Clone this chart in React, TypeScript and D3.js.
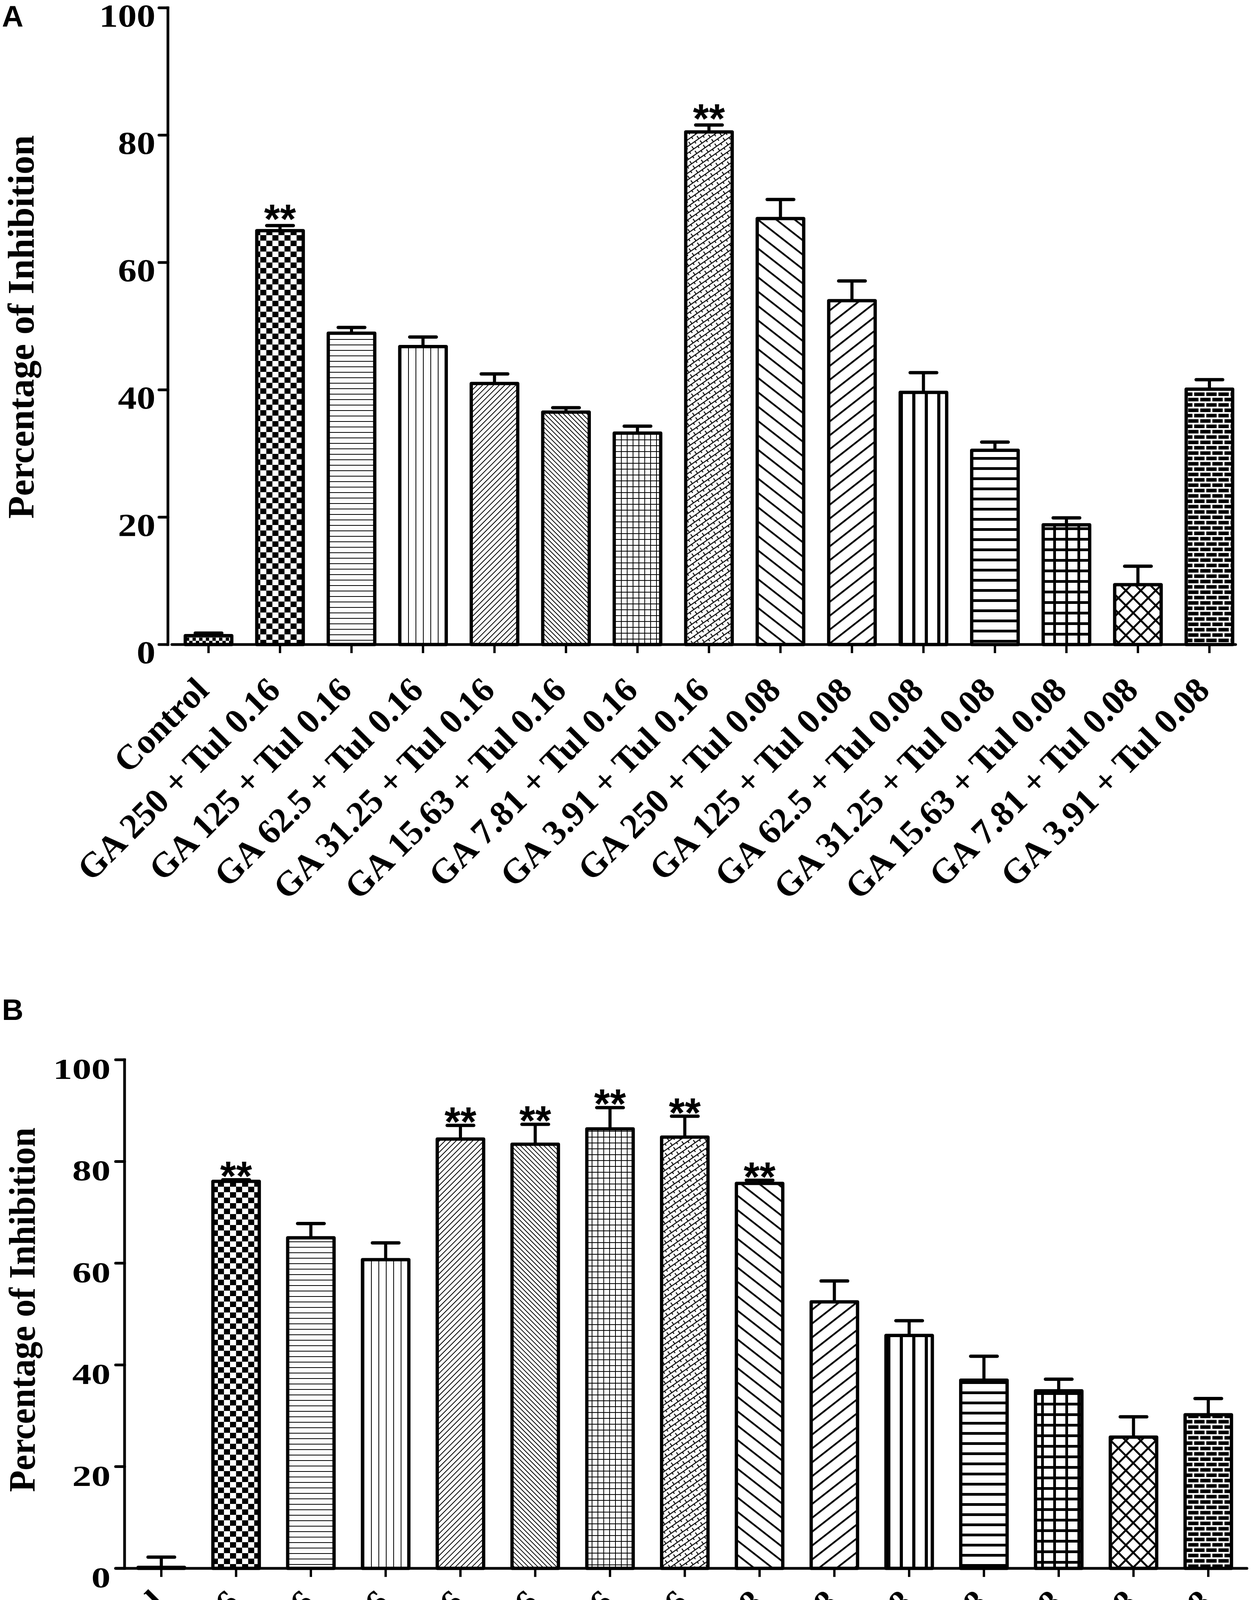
import React from "react";
import * as d3 from "d3";

const categories = [
  "Control",
  "GA 250 + Tul 0.16",
  "GA 125 + Tul 0.16",
  "GA 62.5 + Tul 0.16",
  "GA 31.25 + Tul 0.16",
  "GA 15.63 + Tul 0.16",
  "GA 7.81 + Tul 0.16",
  "GA 3.91 + Tul 0.16",
  "GA 250 + Tul 0.08",
  "GA 125 + Tul 0.08",
  "GA 62.5 + Tul 0.08",
  "GA 31.25 + Tul 0.08",
  "GA 15.63 + Tul 0.08",
  "GA 7.81 + Tul 0.08",
  "GA 3.91 + Tul 0.08",
];

const meansA = [1.4, 65.0, 48.9, 46.8, 41.0, 36.5, 33.2, 80.5, 66.9, 54.0, 39.6, 30.5, 18.8, 9.4, 40.1];
const errorsA = [0.4, 0.8, 0.9, 1.5, 1.5, 0.7, 1.1, 1.1, 3.0, 3.1, 3.1, 1.3, 1.1, 2.9, 1.5];
const starsA = ["", "**", "", "", "", "", "", "**", "", "", "", "", "", "", ""];

const meansB = [0.2, 76.1, 65.0, 60.7, 84.4, 83.4, 86.4, 84.8, 75.7, 52.4, 45.8, 37.0, 34.9, 25.8, 30.2];
const errorsB = [2.0, 0.3, 2.8, 3.3, 2.7, 3.9, 4.2, 4.1, 0.6, 4.1, 2.9, 4.7, 2.3, 4.0, 3.2];
const starsB = ["", "**", "", "", "**", "**", "**", "**", "**", "", "", "", "", "", ""];

const yTicks = [0, 20, 40, 60, 80, 100];
const yTitle = "Percentage of Inhibition";
const panelTitles = ["A", "B"];

const SERIF = "'Liberation Serif', 'Times New Roman', serif";
const SANS = "'Liberation Sans', Arial, sans-serif";

function Patterns() {
  const stripesH = (id: string, spacing: number, w: number, rot = 0) => (
    <pattern
      id={id}
      width={10}
      height={spacing}
      patternUnits="userSpaceOnUse"
      patternTransform={rot ? `rotate(${rot})` : undefined}
    >
      <rect width={10} height={spacing} fill="#fff" />
      <rect y={0} width={10} height={w} fill="#000" />
    </pattern>
  );
  return (
    <defs>
      <pattern id="pat0" width={17} height={17} patternUnits="userSpaceOnUse">
        <rect width={17} height={17} fill="#fff" />
        <rect x={0} y={0} width={8.5} height={8.5} fill="#000" />
        <rect x={8.5} y={8.5} width={8.5} height={8.5} fill="#000" />
      </pattern>
      <pattern id="pat1" width={31} height={28} patternUnits="userSpaceOnUse">
        <rect width={31} height={28} fill="#fff" />
        <rect x={0} y={0} width={15.5} height={14} fill="#000" />
        <rect x={15.5} y={14} width={15.5} height={14} fill="#000" />
      </pattern>
      {stripesH("pat2", 14, 2)}
      <pattern id="pat3" width={19} height={10} patternUnits="userSpaceOnUse">
        <rect width={19} height={10} fill="#fff" />
        <rect x={0} width={2} height={10} fill="#000" />
      </pattern>
      {stripesH("pat4", 10, 2, -45)}
      {stripesH("pat5", 8.5, 2, 45)}
      <pattern id="pat6" width={15} height={15} patternUnits="userSpaceOnUse">
        <rect width={15} height={15} fill="#fff" />
        <rect x={0} width={2} height={15} fill="#000" />
        <rect y={0} width={15} height={2} fill="#000" />
      </pattern>
      <pattern id="pat7" width={26} height={14} patternUnits="userSpaceOnUse" patternTransform="rotate(-35)">
        <rect width={26} height={14} fill="#fff" />
        <rect x={0} y={0} width={26} height={2.5} fill="#000" />
        <rect x={0} y={0} width={2.5} height={7} fill="#000" />
        <rect x={13} y={7} width={2.5} height={7} fill="#000" />
      </pattern>
      {stripesH("pat8", 29, 4.5, 38)}
      {stripesH("pat9", 28, 4.5, -38)}
      <pattern id="pat10" width={32} height={10} patternUnits="userSpaceOnUse">
        <rect width={32} height={10} fill="#fff" />
        <rect x={0} width={8} height={10} fill="#000" />
      </pattern>
      {stripesH("pat11", 26, 7)}
      <pattern id="pat12" width={31} height={27} patternUnits="userSpaceOnUse">
        <rect width={31} height={27} fill="#fff" />
        <rect x={0} width={7} height={27} fill="#000" />
        <rect y={0} width={31} height={7} fill="#000" />
      </pattern>
      <pattern id="pat13" width={27} height={27} patternUnits="userSpaceOnUse" patternTransform="rotate(45)">
        <rect width={27} height={27} fill="#fff" />
        <rect x={0} width={5} height={27} fill="#000" />
        <rect y={0} width={27} height={5} fill="#000" />
      </pattern>
      <pattern id="pat14" width={31} height={27.4} patternUnits="userSpaceOnUse">
        <rect width={31} height={27.4} fill="#000" />
        <rect x={0} y={0} width={31} height={4.5} fill="#fff" />
        <rect x={0} y={13.7} width={31} height={4.5} fill="#fff" />
        <rect x={0} y={0} width={4.5} height={13.7} fill="#fff" />
        <rect x={15.5} y={13.7} width={4.5} height={13.7} fill="#fff" />
      </pattern>
    </defs>
  );
}

type Layout = {
  x0: number; x1: number; pi: number; po: number; al: number;
  yTop: number; yBottom: number; axisX: number;
  tickFont: number; tickDigitW: number; tickGap: number; tickBaseDy: number;
  lblDx: number; lblDy: number; lblFont: number;
  titleX: number; titleY: number; titleFont: number; titleLen: number;
  panelX: number; panelY: number; starDy: number;
};

function Panel({ means, errors, stars, L, title }: { means: number[]; errors: number[]; stars: string[]; L: Layout; title: string }) {
  const x = d3.scaleBand<string>().domain(categories).range([L.x0, L.x1]).paddingInner(L.pi).paddingOuter(L.po).align(L.al);
  const y = d3.scaleLinear().domain([0, 100]).range([L.yBottom, L.yTop]);
  const bw = x.bandwidth();
  const capHalf = 34;
  return (
    <g>
      <text x={L.panelX} y={L.panelY} fontFamily={SANS} fontWeight="bold" fontSize={76}>{title}</text>
      <text
        transform={`translate(${L.titleX},${L.titleY}) rotate(-90)`}
        textAnchor="middle"
        fontFamily={SERIF}
        fontWeight="bold"
        fontSize={L.titleFont}
        textLength={L.titleLen}
        lengthAdjust="spacingAndGlyphs"
      >
        {yTitle}
      </text>
      {/* y axis */}
      <line x1={L.axisX} x2={L.axisX} y1={y(0)} y2={y(100)} stroke="#000" strokeWidth={7} strokeLinecap="square" />
      {yTicks.map((t) => (
        <g key={t}>
          <line x1={L.axisX - 23} x2={L.axisX} y1={y(t)} y2={y(t)} stroke="#000" strokeWidth={7} strokeLinecap="round" />
          <text
            x={L.axisX - L.tickGap}
            y={y(t) + L.tickBaseDy}
            textAnchor="end"
            fontFamily={SERIF}
            fontWeight="bold"
            fontSize={L.tickFont}
            textLength={String(t).length * L.tickDigitW}
            lengthAdjust="spacingAndGlyphs"
          >
            {t}
          </text>
        </g>
      ))}
      {/* x axis */}
      <line x1={L.x0} x2={L.x1} y1={y(0)} y2={y(0)} stroke="#000" strokeWidth={7} strokeLinecap="round" />
      {categories.map((c) => {
        const cx = (x(c) as number) + bw / 2;
        return (
          <g key={c}>
            <line x1={cx} x2={cx} y1={y(0)} y2={y(0) + 22} stroke="#000" strokeWidth={6} />
            <text
              transform={`translate(${cx + L.lblDx},${y(0) + L.lblDy}) rotate(-45)`}
              textAnchor="end"
              fontFamily={SERIF}
              fontWeight="bold"
              fontSize={L.lblFont}
            >
              {c}
            </text>
          </g>
        );
      })}
      {/* bars */}
      {categories.map((c, i) => {
        const cx = (x(c) as number) + bw / 2;
        const top = y(means[i]);
        const eTop = y(means[i] + errors[i]);
        return (
          <g key={"b" + c}>
            <line x1={cx} x2={cx} y1={top} y2={eTop} stroke="#000" strokeWidth={8} />
            <line x1={cx - capHalf} x2={cx + capHalf} y1={eTop} y2={eTop} stroke="#000" strokeWidth={8.5} strokeLinecap="round" />
            <rect
              x={x(c)}
              y={top}
              width={bw}
              height={y(0) - top}
              fill={`url(#pat${i})`}
              stroke="#000"
              strokeWidth={8.5}
              strokeLinejoin="round"
            />
            {stars[i] ? (
              <text x={cx} y={eTop + L.starDy} textAnchor="middle" fontFamily={SANS} fontWeight="bold" fontSize={105}>
                {stars[i]}
              </text>
            ) : null}
          </g>
        );
      })}
    </g>
  );
}

const layoutA: Layout = {
  x0: 440, x1: 3164, pi: 0.35, po: 0.1148, al: 0.82,
  yTop: 20, yBottom: 1650, axisX: 430,
  tickFont: 83, tickDigitW: 48, tickGap: 32, tickBaseDy: 48,
  lblDx: 5, lblDy: 122, lblFont: 90,
  titleX: 86, titleY: 837, titleFont: 95, titleLen: 982,
  panelX: 5, panelY: 68, starDy: 20,
};

const layoutB: Layout = {
  x0: 296, x1: 3193, pi: 0.38, po: 0.254, al: 0.593,
  yTop: 2713, yBottom: 4015, axisX: 319,
  tickFont: 73, tickDigitW: 49, tickGap: 36, tickBaseDy: 49,
  lblDx: 15, lblDy: 93, lblFont: 90,
  titleX: 89, titleY: 3353, titleFont: 96, titleLen: 933,
  panelX: 5, panelY: 2611, starDy: 27,
};

export default function App() {
  return (
    <svg
      width={3206}
      height={4608}
      viewBox="0 0 3206 4608"
      style={{ position: "absolute", left: 0, top: 0, background: "#fff" }}
    >
      <rect width={3206} height={4608} fill="#fff" />
      <Patterns />
      <Panel means={meansA} errors={errorsA} stars={starsA} L={layoutA} title={panelTitles[0]} />
      <Panel means={meansB} errors={errorsB} stars={starsB} L={layoutB} title={panelTitles[1]} />
    </svg>
  );
}
